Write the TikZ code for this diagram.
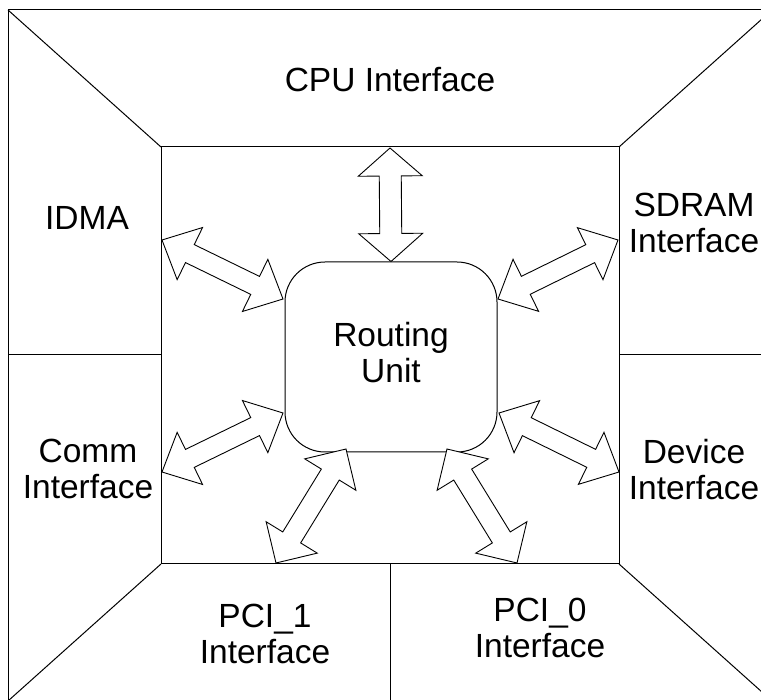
\documentclass[tikz,border=0pt]{standalone}
\usepackage{fontspec}
\setmainfont{Liberation Sans}
\usetikzlibrary{calc}
\tikzset{
  frameline/.style={draw=black, line width=1pt},
  arrowshape/.style={draw=black, fill=white, line width=0.9pt, line join=miter},
  lbl/.style={inner sep=0pt, align=center, font=\fontsize{33.5}{36}\selectfont},
  router/.style={draw=black, line width=1pt, rounded corners=40pt,
    minimum width=212pt, minimum height=190pt, inner sep=0pt, align=center,
    font=\fontsize{33.5}{36}\selectfont}
}
% double arrow: #1,#2 tips, #3 head length, #4 head half width, #5 shaft half width
\newcommand\dblarrow[5]{%
  \draw[arrowshape] (#1)
    -- ($(#1)!#3!(#2)!#4!90:(#2)$)
    -- ($(#1)!#3!(#2)!#5!90:(#2)$)
    -- ($(#2)!#3!(#1)!#5!-90:(#1)$)
    -- ($(#2)!#3!(#1)!#4!-90:(#1)$)
    -- (#2)
    -- ($(#2)!#3!(#1)!#4!90:(#1)$)
    -- ($(#2)!#3!(#1)!#5!90:(#1)$)
    -- ($(#1)!#3!(#2)!#5!-90:(#2)$)
    -- ($(#1)!#3!(#2)!#4!-90:(#2)$)
    -- cycle;}
\begin{document}
\begin{tikzpicture}[x=1pt,y=-1pt]
\useasboundingbox (0,0) rectangle (761,700);
\clip (0,0) rectangle (761,700);
\fill[white] (0,0) rectangle (761,700);
% frame corners
\coordinate (o1) at (8,10);
\coordinate (o2) at (772,10);
\coordinate (o3) at (772,701);
\coordinate (o4) at (8,701);
\coordinate (i1) at (161,147);
\coordinate (i2) at (619,147);
\coordinate (i3) at (619,564);
\coordinate (i4) at (161,564);
\coordinate (lm) at (8,355);
\coordinate (lmi) at (161,355);
\coordinate (rm) at (772,355);
\coordinate (rmi) at (619,355);
\coordinate (bm) at (390,701);
\coordinate (bmi) at (390,564);
\draw[frameline] (o1) -- (o2) -- (o3) -- (o4) -- cycle;
\draw[frameline] (i1) -- (i2) -- (i3) -- (i4) -- cycle;
\draw[frameline] (o1) -- (i1);
\draw[frameline] (o2) -- (i2);
\draw[frameline] (o3) -- (i3);
\draw[frameline] (o4) -- (i4);
\draw[frameline] (lm) -- (lmi);
\draw[frameline] (rm) -- (rmi);
\draw[frameline] (bm) -- (bmi);
% routing unit
\node[router] (ru) at (391,357) {Routing\\Unit\rule[-10pt]{0pt}{0pt}};
% labels
\node[lbl, anchor=base] (cpu) at (390,92) {CPU Interface};
\node[lbl, anchor=base] (idma) at (87,230) {IDMA};
\node[lbl, anchor=north] (sdram) at (694,193) {SDRAM\\Interface};
\node[lbl, anchor=north] (comm) at (88,439) {Comm\\Interface};
\node[lbl, anchor=north] (dev) at (694,439) {Device\\Interface};
\node[lbl, anchor=north] (pci1) at (265,604) {PCI\_1\\Interface};
\node[lbl, anchor=north] (pci0) at (540,598) {PCI\_0\\Interface};
% arrow end points
\coordinate (cpuA) at (390,148);
\coordinate (cpuB) at (ru.north);
\coordinate (idA) at (162,240);
\coordinate (idB) at (283,299);
\coordinate (sdA) at (618,240);
\coordinate (sdB) at (498,299);
\coordinate (cmA) at (162,472);
\coordinate (cmB) at (283,413);
\coordinate (dvA) at (619,472);
\coordinate (dvB) at (499,413);
\coordinate (p1A) at (276,563);
\coordinate (p1B) at (346,449);
\coordinate (p0A) at (517,563);
\coordinate (p0B) at (447,449);
\dblarrow{cpuA}{cpuB}{28pt}{32pt}{11pt}
\dblarrow{idA}{idB}{31pt}{29pt}{10pt}
\dblarrow{sdA}{sdB}{31pt}{29pt}{10pt}
\dblarrow{cmA}{cmB}{31pt}{29pt}{10pt}
\dblarrow{dvA}{dvB}{31pt}{29pt}{10pt}
\dblarrow{p1A}{p1B}{30pt}{30pt}{10.5pt}
\dblarrow{p0A}{p0B}{30pt}{30pt}{10.5pt}
\end{tikzpicture}
\end{document}
